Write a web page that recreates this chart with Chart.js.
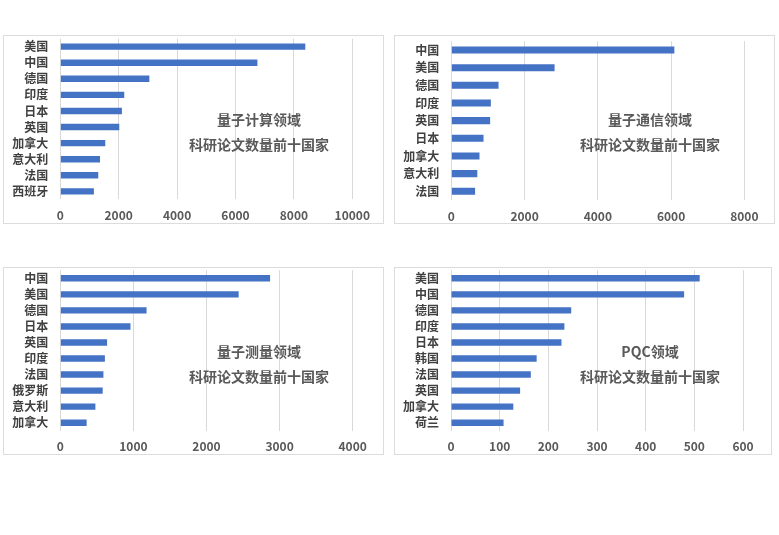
<!DOCTYPE html>
<html>
<head>
<meta charset="utf-8">
<script src="https://cdn.jsdelivr.net/npm/chart.js@4.4.1/dist/chart.umd.min.js"></script>
<style>
  html, body { margin: 0; padding: 0; background: #fff; }
  body { width: 779px; height: 535px; position: relative; overflow: hidden; }
  .panel { position: absolute; box-sizing: border-box; border: 1px solid #dcdcdc; background: #fff; }
  .panel .inner { position: absolute; left: 0; top: 0; right: 0; bottom: 0; }
</style>
</head>
<body>
<div class="panel" id="p1" style="left:3px;top:35px;width:381px;height:189px;"><div class="inner"><canvas id="c1"></canvas></div></div>
<div class="panel" id="p2" style="left:394px;top:35px;width:381px;height:189px;"><div class="inner"><canvas id="c2"></canvas></div></div>
<div class="panel" id="p3" style="left:3px;top:267px;width:381px;height:188px;"><div class="inner"><canvas id="c3"></canvas></div></div>
<div class="panel" id="p4" style="left:394px;top:267px;width:378px;height:188px;"><div class="inner"><canvas id="c4"></canvas></div></div>
<script>
// ---- Data ----
const computingCountries = ['美国','中国','德国','印度','日本','英国','加拿大','意大利','法国','西班牙'];
const computingValues    = [8390, 6750, 3050, 2190, 2110, 2020, 1540, 1360, 1300, 1150];

const commCountries = ['中国','美国','德国','印度','英国','日本','加拿大','意大利','法国'];
const commValues    = [6090, 2820, 1290, 1080, 1060, 880, 770, 710, 650];

const measureCountries = ['中国','美国','德国','日本','英国','印度','法国','俄罗斯','意大利','加拿大'];
const measureValues    = [2870, 2440, 1180, 960, 640, 610, 590, 580, 480, 360];

const pqcCountries = ['美国','中国','德国','印度','日本','韩国','法国','英国','加拿大','荷兰'];
const pqcValues    = [511, 479, 247, 233, 227, 176, 164, 142, 128, 108];

const computingTitle = ['量子计算领域', '科研论文数量前十国家'];
const commTitle      = ['量子通信领域', '科研论文数量前十国家'];
const measureTitle   = ['量子测量领域', '科研论文数量前十国家'];
const pqcTitle       = ['PQC领域', '科研论文数量前十国家'];

const computingTicks = { max: 10000, step: 2000 };
const commTicks      = { max: 8000,  step: 2000 };
const measureTicks   = { max: 4000,  step: 1000 };
const pqcTicks       = { max: 600,   step: 100 };

// ---- Rendering ----
const FONT = '"Noto Sans CJK SC", "Noto Sans", sans-serif';
const BAR_COLOR = '#4472C4';

const annotationPlugin = {
  id: 'annot',
  afterDraw(chart, args, opts) {
    const ctx = chart.ctx;
    ctx.save();
    ctx.font = 'bold 14px ' + FONT;
    ctx.fillStyle = '#595959';
    ctx.textAlign = 'center';
    ctx.textBaseline = 'middle';
    opts.lines.forEach((t, i) => ctx.fillText(t, opts.x, opts.y + i * opts.gap));
    ctx.restore();
  }
};

function makeChart(id, labels, values, ticks, title, lay) {
  new Chart(document.getElementById(id), {
    type: 'bar',
    data: {
      labels: labels,
      datasets: [{
        data: values,
        backgroundColor: BAR_COLOR,
        borderWidth: 0,
        categoryPercentage: 1.0,
        barPercentage: 0.4
      }]
    },
    plugins: [annotationPlugin],
    options: {
      indexAxis: 'y',
      responsive: true,
      maintainAspectRatio: false,
      animation: false,
      devicePixelRatio: 1,
      layout: { padding: { top: lay.top, right: lay.right, left: 0, bottom: 0 } },
      plugins: {
        legend: { display: false },
        tooltip: { enabled: false },
        annot: { lines: title, x: 255, y: 84, gap: 24.5 }
      },
      scales: {
        x: {
          min: 0, max: ticks.max,
          grid: { color: '#d9d9d9', lineWidth: 1, drawTicks: false },
          border: { display: false },
          ticks: {
            stepSize: ticks.step,
            padding: 9,
            color: '#595959',
            font: { family: FONT, size: 12, weight: 'bold' },
            maxRotation: 0,
            callback: (v) => String(v)
          },
          afterFit(scale) { scale.height = lay.xh; scale.paddingTop = 0; scale.paddingBottom = 0; }
        },
        y: {
          grid: { display: false, drawTicks: false },
          border: { display: false },
          ticks: {
            padding: 12,
            autoSkip: false,
            color: '#404040',
            font: { family: FONT, size: 12, weight: 'bold' }
          },
          afterFit(scale) { scale.width = lay.yw; scale.paddingTop = 0; scale.paddingBottom = 0; }
        }
      }
    }
  });
}

makeChart('c1', computingCountries, computingValues, computingTicks, computingTitle, { top: 2.6, right: 30.7, xh: 23.6, yw: 56.3 });
makeChart('c2', commCountries, commValues, commTicks, commTitle, { top: 5.2, right: 29.7, xh: 22.9, yw: 56.3 });
makeChart('c3', measureCountries, measureValues, measureTicks, measureTitle, { top: 2.3, right: 30.3, xh: 23.3, yw: 56.3 });
makeChart('c4', pqcCountries, pqcValues, pqcTicks, pqcTitle, { top: 2.3, right: 28, xh: 23.3, yw: 56 });
</script>
</body>
</html>
